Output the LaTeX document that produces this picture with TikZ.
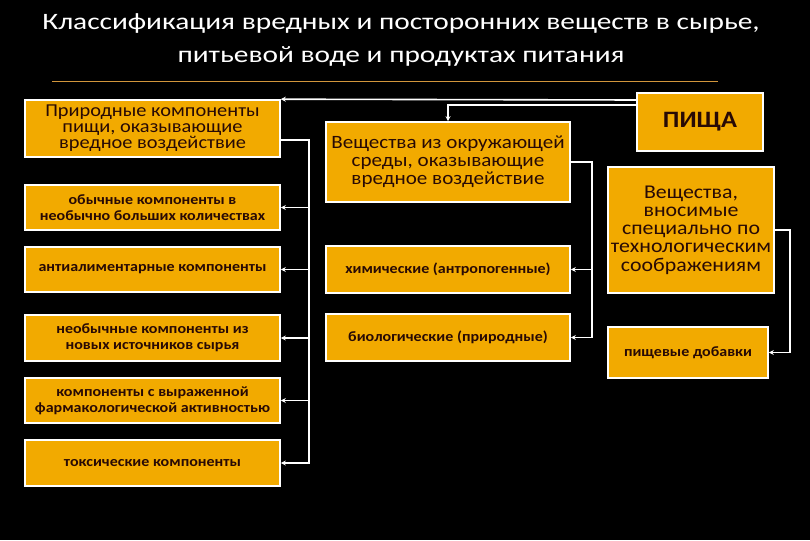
\documentclass[tikz,border=0pt]{standalone}
\usepackage{fontspec}
\setmainfont{Carlito}[FakeStretch=1.12]
\newfontfamily\titlefont{Carlito}[FakeStretch=1.25]
\usetikzlibrary{arrows.meta}
\definecolor{boxgold}{RGB}{242,170,0}
\definecolor{boxtext}{RGB}{40,10,5}
\definecolor{rulecol}{RGB}{210,150,60}
\tikzset{
  box/.style={draw=white, line width=1.6pt, fill=boxgold, text=boxtext, align=center, inner sep=1pt},
  small/.style={font=\fontsize{14.3}{16}\selectfont\bfseries},
  conn/.style={draw=white, line width=1.6pt},
  arr/.style={conn, -{Stealth[length=5pt,width=5pt]}}
}
\begin{document}
\begin{tikzpicture}[x=1pt,y=-1pt]
\fill[black] (0,0) rectangle (810,540);
\useasboundingbox (0,0) rectangle (810,540);
% title
\node[anchor=base, text=white, font=\titlefont\fontsize{23.5}{33}\selectfont] (t1) at (401,30) {Классификация вредных и посторонних веществ в сырье,};
\node[anchor=base, text=white, font=\titlefont\fontsize{23.5}{33}\selectfont] (t2) at (401,63) {питьевой воде и продуктах питания};
\draw[rulecol, line width=0.8pt] (52,81) coordinate (r1) -- (718,81) coordinate (r2);
% left column
\node[box, font=\fontsize{18.2}{16}\selectfont, minimum width=255pt, minimum height=57pt] (L1) at (152.5,128.5) {Природные компоненты\\пищи, оказывающие\\вредное воздействие};
\node[box, small, minimum width=255pt, minimum height=45pt] (L2) at (152.5,207.5) {обычные компоненты в\\необычно больших количествах};
\node[box, small, minimum width=255pt, minimum height=45pt] (L3) at (152.5,269.5) {антиалиментарные компоненты};
\node[box, small, minimum width=255pt, minimum height=46pt] (L4) at (152.5,338) {необычные компоненты из\\новых источников сырья};
\node[box, small, minimum width=255pt, minimum height=45pt] (L5) at (152.5,400.5) {компоненты с выраженной\\фармакологической активностью};
\node[box, small, minimum width=255pt, minimum height=46pt] (L6) at (152.5,463) {токсические компоненты};
% middle column
\node[box, font=\fontsize{18.8}{18}\selectfont, minimum width=244pt, minimum height=80pt] (M1) at (448,162) {Вещества из окружающей\\среды, оказывающие\\вредное воздействие};
\node[box, small, minimum width=244pt, minimum height=47pt] (M2) at (448,269.5) {химические (антропогенные)};
\node[box, small, minimum width=244pt, minimum height=47pt] (M3) at (448,337.5) {биологические (природные)};
% right column
\node[box, font=\fontsize{23.5}{26}\selectfont\bfseries, minimum width=126pt, minimum height=58pt] (P) at (700,122) {ПИЩА};
\node[box, font=\fontsize{19.5}{18.2}\selectfont, minimum width=166pt, minimum height=126pt] (R2) at (691,230) {Вещества,\\вносимые\\специально по\\технологическим\\соображениям};
\node[box, small, minimum width=160pt, minimum height=51pt] (R3) at (688,352.5) {пищевые добавки};
% connectors from ПИЩА
\draw[arr] (P.west |- 0,100) -- (L1.north east);
\draw[arr] (P.west |- 0,105) -| (M1.north);
% left bus
\coordinate (b1) at (309,140);
\draw[arr] (L1.east |- b1) -- (b1) |- (L6.east);
\draw[arr] (b1 |- L2.east) -- (L2.east);
\draw[arr] (b1 |- L3.east) -- (L3.east);
\draw[arr] (b1 |- L4.east) -- (L4.east);
\draw[arr] (b1 |- L5.east) -- (L5.east);
% middle bus
\coordinate (b2) at (592,162);
\draw[arr] (M1.east) -- (b2) |- (M3.east);
\draw[arr] (b2 |- M2.east) -- (M2.east);
% right bus
\coordinate (b3) at (790,230);
\draw[arr] (R2.east) -- (b3) |- (R3.east);
\end{tikzpicture}
\end{document}
